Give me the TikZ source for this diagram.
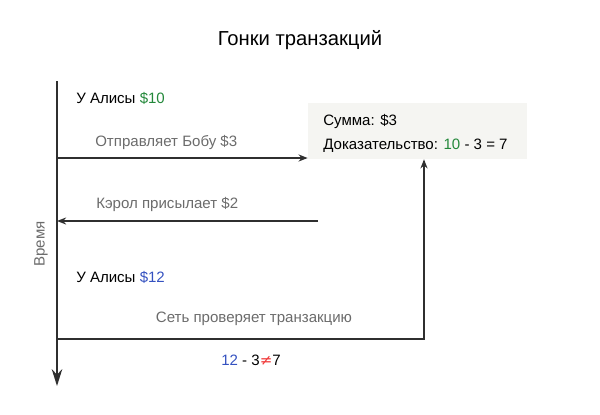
\documentclass[tikz,border=0pt]{standalone}
\usepackage{fontspec}
\setmainfont{Liberation Sans}
\newfontfamily\symfont{DejaVu Sans}
\usetikzlibrary{arrows.meta}
\definecolor{raceGreen}{HTML}{23883A}
\definecolor{raceBlue}{HTML}{3451C0}
\definecolor{raceRed}{HTML}{F03A3A}
\definecolor{raceGrey}{HTML}{6B6B6B}
\definecolor{raceBox}{HTML}{F5F5F2}
\definecolor{raceLine}{HTML}{2F2F2F}

\begin{document}
\begin{tikzpicture}[x=0.025cm, y=-0.025cm,
    flow/.style={draw=raceLine, line width=1.1pt, -{Stealth[length=6.5pt,width=5pt]}},
    lbl/.style={font=\fontsize{10.7}{13}\selectfont, anchor=base west, inner sep=0pt},
    note/.style={lbl, text=raceGrey}]
  \useasboundingbox (0,0) rectangle (600,415);

  % Title
  \node[font=\fontsize{14.4}{17}\selectfont, anchor=base, inner sep=0pt] (title) at (300,45) {Гонки транзакций};

  % Time axis
  \coordinate (axtop) at (57,81);
  \coordinate (axbot) at (57,386);
  \draw[flow, -{Stealth[length=12pt,width=7.5pt]}] (axtop) -- (axbot);
  \node[note, anchor=center, rotate=90] (time) at (41,244) {Время};

  % Transaction box
  \node[fill=raceBox, inner sep=0pt, minimum width=5.475cm, minimum height=1.4cm] (proof) at (417.5,131) {};
  \node[lbl] (amount) at (323,125) {Сумма: \$3};
  \node[lbl] (check) at (323,149) {Доказательство: \textcolor{raceGreen}{10} - 3 = 7};

  % Alice sends to Bob
  \node[lbl] (alice1) at (76,103) {У Алисы \textcolor{raceGreen}{\$10}};
  \node[note] (send) at (95,146) {Отправляет Бобу \$3};
  \coordinate (sendsrc) at (57,158);
  \draw[flow] (sendsrc) -- (sendsrc -| proof.west);

  % Carol pays Alice
  \node[note] (carol) at (96,208) {Кэрол присылает \$2};
  \coordinate (carolsrc) at (318,221);
  \draw[flow] (carolsrc) -- (carolsrc -| axtop);
  \node[lbl] (alice2) at (76,282) {У Алисы \textcolor{raceBlue}{\$12}};

  % Network check
  \node[note, anchor=base] (verify) at (254,322) {Сеть проверяет транзакцию};
  \coordinate (netsrc) at (57,339);
  \coordinate (netturn) at (424,339);
  \draw[flow] (netsrc) -- (netturn) -- (netturn |- proof.south);
  \node[lbl, anchor=base] (fail) at (251,365) {\textcolor{raceBlue}{12} - 3{\symfont\textcolor{raceRed}{≠}}7};
\end{tikzpicture}
\end{document}
